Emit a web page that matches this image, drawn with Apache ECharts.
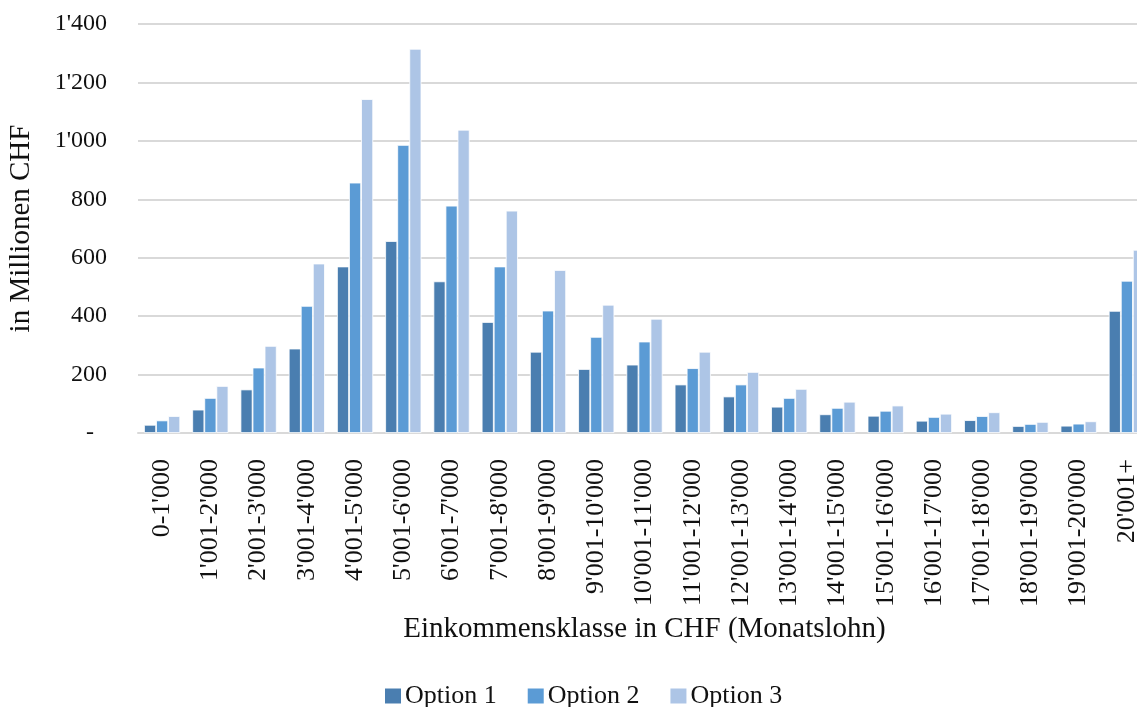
<!DOCTYPE html>
<html>
<head>
<meta charset="utf-8">
<script src="https://cdn.jsdelivr.net/npm/echarts@6/dist/echarts.min.js"></script>
<style>
  html, body { margin: 0; padding: 0; background: #ffffff; }
  #chart { width: 1137px; height: 707px; }
</style>
</head>
<body>
<div id="chart"></div>
<script>
// Income classes (monthly wage, CHF)
const categories = [
  "0-1'000", "1'001-2'000", "2'001-3'000", "3'001-4'000", "4'001-5'000",
  "5'001-6'000", "6'001-7'000", "7'001-8'000", "8'001-9'000", "9'001-10'000",
  "10'001-11'000", "11'001-12'000", "12'001-13'000", "13'001-14'000", "14'001-15'000",
  "15'001-16'000", "16'001-17'000", "17'001-18'000", "18'001-19'000", "19'001-20'000",
  "20'001+"
];

// Amounts in million CHF
const option1 = [28, 80, 149, 289, 570, 657, 519, 380, 278, 219, 234, 166, 125, 90, 64, 59, 42, 44, 24, 25, 418];
const option2 = [43, 120, 224, 435, 857, 986, 778, 570, 419, 329, 313, 222, 166, 120, 86, 76, 55, 58, 31, 32, 521];
const option3 = [58, 161, 298, 580, 1143, 1315, 1038, 761, 558, 439, 391, 278, 209, 151, 107, 94, 66, 71, 38, 40, 627];

const seriesNames = ['Option 1', 'Option 2', 'Option 3'];
const yTicks = { min: 0, max: 1400, interval: 200 };

const colors = ['#4a7eb0', '#5b9bd5', '#adc5e6'];
const FONT = 'Liberation Serif';

function formatSwiss(v) {
  if (v === 0) return '{dash|-}';
  return String(v).replace(/\B(?=(\d{3})+(?!\d))/g, "'");
}

const chart = echarts.init(document.getElementById('chart'), null, { renderer: 'canvas' });

const seriesData = [option1, option2, option3];

chart.setOption({
  animation: false,
  backgroundColor: '#ffffff',
  color: colors,
  textStyle: { fontFamily: FONT, color: '#111111' },
  // the plot area runs past the right edge of the canvas
  grid: { left: 138, right: -14, top: 24, bottom: 274, containLabel: false, outerBoundsMode: 'none' },
  legend: {
    data: seriesNames,
    left: 383,
    top: 683,
    padding: 0,
    itemWidth: 18,
    itemHeight: 17,
    itemGap: 29,
    icon: 'rect',
    textStyle: { fontFamily: FONT, fontSize: 26, color: '#111111', padding: [0, 0, 0, -2] }
  },
  xAxis: {
    type: 'category',
    data: categories,
    axisLine: { show: true, lineStyle: { color: '#d9d9d9', width: 2 } },
    axisTick: { show: false },
    axisLabel: {
      rotate: 90,
      interval: 0,
      margin: 26,
      fontFamily: FONT,
      fontSize: 26,
      color: '#111111'
    },
    name: 'Einkommensklasse in CHF (Monatslohn)',
    nameLocation: 'middle',
    nameGap: 176,
    nameTextStyle: { fontFamily: FONT, fontSize: 29, color: '#111111' }
  },
  yAxis: {
    type: 'value',
    min: yTicks.min,
    max: yTicks.max,
    interval: yTicks.interval,
    axisLine: { show: false },
    axisTick: { show: false },
    splitLine: { lineStyle: { color: '#d9d9d9', width: 2 } },
    axisLabel: {
      margin: 31,
      fontFamily: FONT,
      fontSize: 24,
      color: '#111111',
      formatter: formatSwiss,
      rich: { dash: { fontFamily: FONT, fontSize: 24, color: '#111111', padding: [0, 13, 0, 0] } }
    },
    name: 'in Millionen CHF',
    nameLocation: 'middle',
    nameGap: 102,
    nameTextStyle: { fontFamily: FONT, fontSize: 29, color: '#111111' }
  },
  series: seriesNames.map((name, i) => ({
    name: name,
    type: 'bar',
    data: seriesData[i],
    barGap: '0%',
    barCategoryGap: '25%',
    itemStyle: { color: colors[i], borderColor: '#ffffff', borderWidth: 0.8 }
  }))
});
</script>
</body>
</html>
